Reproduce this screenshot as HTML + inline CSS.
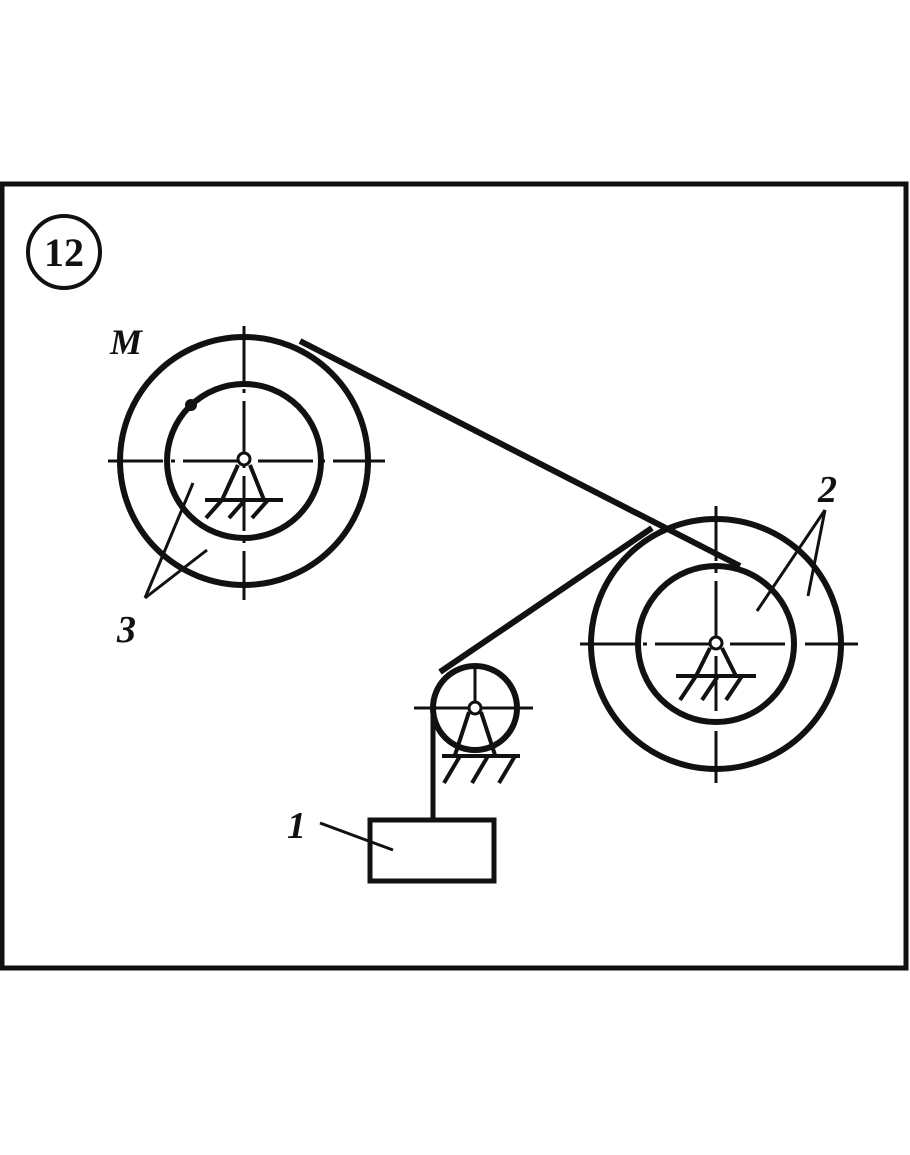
<!DOCTYPE html>
<html><head><meta charset="utf-8"><style>
html,body{margin:0;padding:0;background:#fff;}
svg{display:block;}
text{font-family:"Liberation Serif",serif;font-style:italic;font-weight:bold;fill:#111;}
</style></head><body>
<svg width="910" height="1155" viewBox="0 0 910 1155" xmlns="http://www.w3.org/2000/svg">
<rect x="0" y="0" width="910" height="1155" fill="#fff"/>
<!-- frame -->
<rect x="2" y="184" width="904" height="784" fill="none" stroke="#111" stroke-width="5"/>
<!-- 12 label -->
<circle cx="64" cy="252" r="36" fill="none" stroke="#111" stroke-width="4"/>
<text x="64" y="266" font-size="40" text-anchor="middle" style="font-style:normal">12</text>

<g stroke="#111" fill="none">
<!-- left wheel -->
<circle cx="244" cy="461" r="124" stroke-width="6"/>
<circle cx="244" cy="461" r="77" stroke-width="6"/>
<line x1="108" y1="461" x2="385" y2="461" stroke-width="3" stroke-dasharray="55,8,4,8"/>
<line x1="244" y1="326" x2="244" y2="600" stroke-width="3" stroke-dasharray="55,8,4,8"/>
<!-- right wheel -->
<circle cx="716" cy="644" r="125" stroke-width="6"/>
<circle cx="716" cy="644" r="78" stroke-width="6"/>
<line x1="580" y1="644" x2="858" y2="644" stroke-width="3" stroke-dasharray="55,8,4,8"/>
<line x1="716" y1="506" x2="716" y2="783" stroke-width="3" stroke-dasharray="55,8,4,8"/>
<!-- small pulley -->
<circle cx="475" cy="708" r="42" stroke-width="6"/>
<line x1="414" y1="708" x2="533" y2="708" stroke-width="3"/>
<line x1="475" y1="666" x2="475" y2="708" stroke-width="3"/>
<!-- belts -->
<line x1="300" y1="341" x2="740" y2="566" stroke-width="6"/>
<line x1="652" y1="528" x2="440" y2="672" stroke-width="6"/>
<line x1="433" y1="700" x2="433" y2="820" stroke-width="5"/>
<!-- load -->
<rect x="370" y="820" width="124" height="61" stroke-width="5"/>
<!-- supports -->
<g stroke-width="4">
<path d="M238 465 L222 500 M250 465 L264 500"/>
<line x1="205" y1="500" x2="283" y2="500"/>
<path d="M222 500 L206 518 M245 500 L229 518 M268 500 L252 518"/>
<path d="M710 648 L696 676 M722 648 L736 676"/>
<line x1="676" y1="676" x2="756" y2="676"/>
<path d="M696 676 L680 700 M718 676 L702 700 M742 676 L726 700"/>
<path d="M469 712 L455 755 M481 712 L495 755"/>
<line x1="442" y1="756" x2="520" y2="756"/>
<path d="M460 756 L444 783 M488 756 L472 783 M515 756 L499 783"/>
</g>
<circle cx="244" cy="459" r="6" fill="#fff" stroke-width="3"/>
<circle cx="716" cy="643" r="6" fill="#fff" stroke-width="3"/>
<circle cx="475" cy="708" r="6" fill="#fff" stroke-width="3"/>
<!-- leaders -->
<g stroke-width="3">
<line x1="145" y1="598" x2="193" y2="483"/>
<line x1="145" y1="598" x2="207" y2="550"/>
<line x1="825" y1="510" x2="757" y2="611"/>
<line x1="825" y1="510" x2="808" y2="596"/>
<line x1="320" y1="823" x2="393" y2="850"/>
</g>
</g>
<circle cx="191" cy="405" r="6" fill="#111"/>
<text x="110" y="354" font-size="36">M</text>
<text x="117" y="642" font-size="38">3</text>
<text x="818" y="502" font-size="38">2</text>
<text x="287" y="838" font-size="38">1</text>
</svg>
</body></html>
